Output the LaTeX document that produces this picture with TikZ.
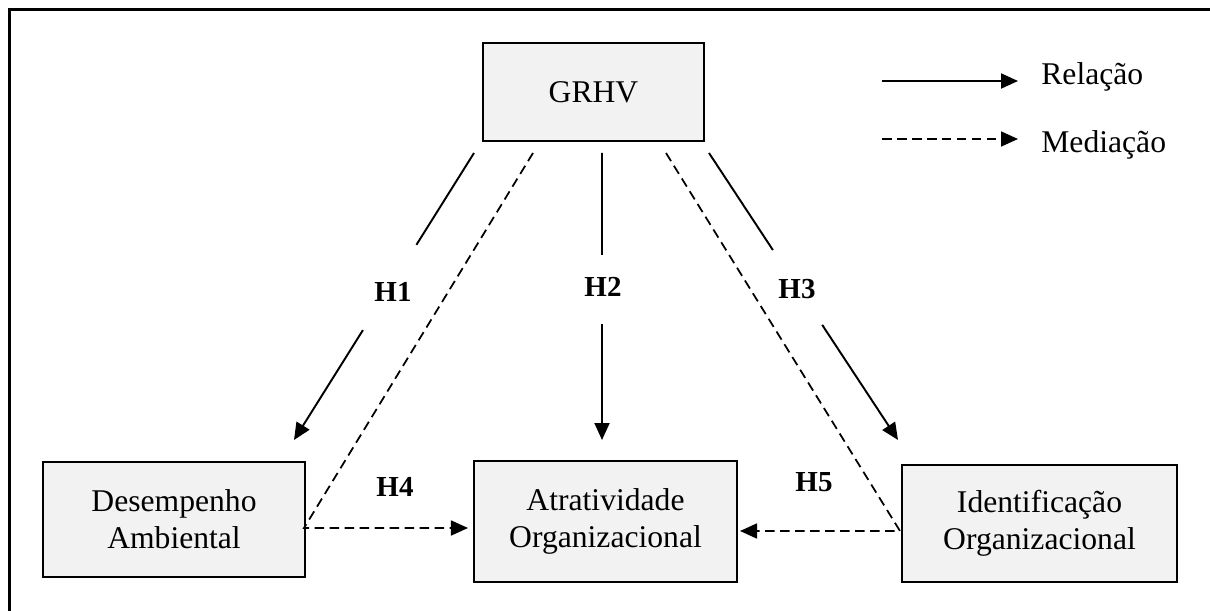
\documentclass[tikz,border=0pt]{standalone}
\usepackage{fontspec}
\setmainfont{Liberation Serif}
\usetikzlibrary{calc,arrows.meta}
\definecolor{boxgray}{HTML}{F2F2F2}

\begin{document}
\begin{tikzpicture}[x=0.02cm, y=-0.02cm,
    box/.style={draw=black, line width=1.2pt, fill=boxgray, inner sep=0pt, align=center,
      font=\fontsize{18}{21}\selectfont},
    hyp/.style={inner sep=0pt, font=\fontsize{16.5}{20}\selectfont\bfseries},
    legtext/.style={anchor=base west, inner sep=0pt, font=\fontsize{18}{21}\selectfont},
    rel/.style={line width=1.1pt, -{Triangle[length=0.34cm,width=0.3cm]}},
    med/.style={line width=1pt, dash pattern=on 0.19cm off 0.11cm, -{Triangle[length=0.34cm,width=0.3cm]}}]
  %%%%% START %%%%%

  \useasboundingbox (0,0) rectangle (1210,611);
  \draw[line width=1.7pt] (9.5,640) -- (9.5,9.5) -- (1240,9.5);

  % boxes
  \node[box, minimum width=4.42cm, minimum height=1.96cm] (grhv) at (593.5,92) {GRHV};
  \node[box, minimum width=5.24cm, minimum height=2.30cm] (desemp) at (174,519.5) {Desempenho\\Ambiental};
  \node[box, minimum width=5.26cm, minimum height=2.42cm] (atrat) at (605.5,521.5) {Atratividade\\Organizacional};
  \node[box, minimum width=5.50cm, minimum height=2.34cm] (ident) at (1039.5,523.5) {Identificação\\Organizacional};

  % ends of the connectors
  \coordinate (g1) at (474,153);  \coordinate (d1) at (294,440);
  \coordinate (g2) at (602,153);  \coordinate (a2) at (602,440);
  \coordinate (g3) at (709,153);  \coordinate (i3) at (898,440);
  \coordinate (m1) at (533,153);  \coordinate (m1c) at (304,528);
  \coordinate (m2) at (666,153);  \coordinate (m2c) at (900,531);

  % hypotheses
  \node[hyp] (h1) at (393,292) {H1};
  \node[hyp] (h2) at (603,287) {H2};
  \node[hyp] (h3) at (797,289) {H3};
  \node[hyp] (h4) at (395,487) {H4};
  \node[hyp] (h5) at (814,482) {H5};

  \draw[line width=1.1pt] (g1) -- ($(g1)!0.32!(d1)$);
  \draw[rel] ($(g1)!0.617!(d1)$) -- (d1);
  \draw[line width=1.1pt] (g2) -- ($(g2)!0.355!(a2)$);
  \draw[rel] ($(g2)!0.596!(a2)$) -- (a2);
  \draw[line width=1.1pt] (g3) -- ($(g3)!0.338!(i3)$);
  \draw[rel] ($(g3)!0.599!(i3)$) -- (i3);

  \draw[med] (m1) -- (m1c) -- ([xshift=-0.1cm]atrat.west |- m1c);
  \draw[med] (m2) -- (m2c) -- ([xshift=0.04cm]atrat.east |- m2c);

  % legend
  \coordinate (l1) at (882,81);   \coordinate (l1e) at (1018,81);
  \coordinate (l2) at (882,139);  \coordinate (l2e) at (1018,139);
  \node[legtext] (relacao) at (1041,85) {Relação};
  \node[legtext] (mediacao) at (1041,153) {Mediação};
  \draw[rel] (l1) -- (l1e);
  \draw[med] (l2) -- (l2e);

  %%%%% END %%%%%
\end{tikzpicture}
\end{document}
